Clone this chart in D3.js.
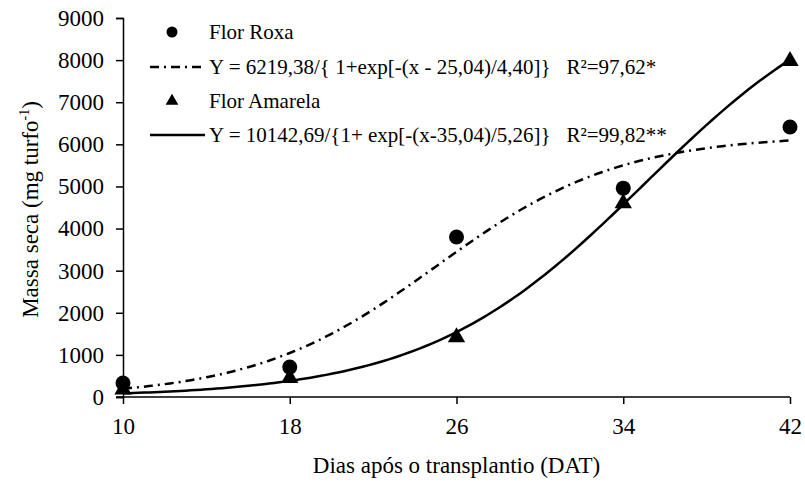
<!DOCTYPE html>
<html>
<head>
<meta charset="utf-8">
<script src="https://cdn.jsdelivr.net/npm/d3@7"></script>
<style>
  html, body { margin: 0; padding: 0; background: #fff; }
  svg text { font-family: "Liberation Serif", "Times New Roman", "DejaVu Serif", serif !important; fill: #000; }
</style>
</head>
<body>
<svg id="chart" width="805" height="483"></svg>
<script>
// Days after transplanting
const days = [10, 18, 26, 34, 42];
// Dry mass (mg turfo-1) observed for each flower colour
const roxaValues = [330, 710, 3800, 4960, 6410];
const amarelaValues = [180, 450, 1420, 4600, 7980];
// Logistic fit parameters: [a, x0, b] for Y = a / (1 + exp(-(x - x0)/b))
const roxaFit = [6219.38, 25.04, 4.40];
const amarelaFit = [10142.69, 35.04, 5.26];
// Axis ticks
const xTicks = [10, 18, 26, 34, 42];
const yTicks = [0, 1000, 2000, 3000, 4000, 5000, 6000, 7000, 8000, 9000];
// Legend texts
const legendRoxa = "Flor Roxa";
const legendRoxaEq = "Y = 6219,38/{ 1+exp[-(x - 25,04)/4,40]}\u00A0\u00A0 R²=97,62*";
const legendAmarela = "Flor Amarela";
const legendAmarelaEq = "Y = 10142,69/{1+ exp[-(x-35,04)/5,26]}\u00A0\u00A0 R²=99,82**";

const svg = d3.select("#chart");
const plotLeft = 123, plotRight = 790, plotTop = 18, plotBottom = 397;

const x = d3.scaleLinear().domain([10, 42]).range([plotLeft, plotRight]);
const y = d3.scaleLinear().domain([0, 9000]).range([plotBottom, plotTop]);

// Axes
const xAxis = d3.axisBottom(x).tickValues(xTicks).tickSize(7).tickPadding(14).tickFormat(d3.format("d"));
const yAxis = d3.axisLeft(y).tickValues(yTicks).tickSize(7).tickPadding(12).tickFormat(d3.format("d"));

const gx = svg.append("g").attr("transform", `translate(0,${plotBottom})`).call(xAxis);
const gy = svg.append("g").attr("transform", `translate(${plotLeft},0)`).call(yAxis);
[gx, gy].forEach(g => {
  g.attr("font-family", null).attr("font-size", null);
  g.select(".domain").attr("stroke", "#000").attr("stroke-width", 1.5);
  g.selectAll(".tick line").attr("stroke", "#000").attr("stroke-width", 1.5);
  g.selectAll(".tick text").style("font-size", "23px");
});
// extend the horizontal axis to the left across the y tick length
gx.select(".domain").attr("d", `M${plotLeft - 7},0H${plotRight}`);

// Axis titles
svg.append("text")
  .attr("x", (plotLeft + plotRight) / 2).attr("y", 473)
  .attr("text-anchor", "middle").style("font-size", "23px")
  .text("Dias após o transplantio (DAT)");

const yt = svg.append("text")
  .attr("transform", `translate(38,${(plotTop + plotBottom) / 2 + 2}) rotate(-90)`)
  .attr("text-anchor", "middle").style("font-size", "23px");
yt.append("tspan").text("Massa seca (mg turfo");
yt.append("tspan").attr("dy", -9).style("font-size", "14px").text("-1");
yt.append("tspan").attr("dy", 9).text(")");

// Fitted logistic curves
const logistic = p => t => p[0] / (1 + Math.exp(-(t - p[1]) / p[2]));
const xs = d3.range(10, 42.001, 0.25);
const line = d3.line().x(d => x(d[0])).y(d => y(d[1]));
const dashDot = "9,5,2,5";

svg.append("path")
  .datum(xs.map(t => [t, logistic(roxaFit)(t)]))
  .attr("d", line).attr("fill", "none").attr("stroke", "#000")
  .attr("stroke-width", 2.5).attr("stroke-dasharray", dashDot);

svg.append("path")
  .datum(xs.map(t => [t, logistic(amarelaFit)(t)]))
  .attr("d", line).attr("fill", "none").attr("stroke", "#000")
  .attr("stroke-width", 2.5);

// Observed points
const circleSym = d3.symbol().type(d3.symbolCircle);
const triSym = d3.symbol().type(d3.symbolTriangle);

svg.append("g").selectAll("path")
  .data(days.map((d, i) => [d, roxaValues[i]]))
  .join("path")
  .attr("transform", d => `translate(${x(d[0])},${y(d[1])})`)
  .attr("d", circleSym.size(Math.PI * 7.5 * 7.5)).attr("fill", "#000");

svg.append("g").selectAll("path")
  .data(days.map((d, i) => [d, amarelaValues[i]]))
  .join("path")
  .attr("transform", d => `translate(${x(d[0])},${y(d[1])})`)
  .attr("d", triSym.size(130)).attr("fill", "#000");

// Legend
const lg = svg.append("g").style("font-size", "21px");
const lx = 209;
const rows = [32, 67, 101, 135];

lg.append("path").attr("transform", `translate(172,${rows[0]})`)
  .attr("d", d3.symbol().type(d3.symbolCircle).size(Math.PI * 5.5 * 5.5)).attr("fill", "#000");
lg.append("text").attr("x", lx).attr("y", rows[0]).attr("dy", "0.35em").text(legendRoxa);

lg.append("line").attr("x1", 150).attr("x2", 205).attr("y1", rows[1]).attr("y2", rows[1])
  .attr("stroke", "#000").attr("stroke-width", 2.5).attr("stroke-dasharray", dashDot);
lg.append("text").attr("x", lx).attr("y", rows[1]).attr("dy", "0.35em").text(legendRoxaEq);

lg.append("path").attr("transform", `translate(172,${rows[2]})`)
  .attr("d", d3.symbol().type(d3.symbolTriangle).size(70)).attr("fill", "#000");
lg.append("text").attr("x", lx).attr("y", rows[2]).attr("dy", "0.35em").text(legendAmarela);

lg.append("line").attr("x1", 150).attr("x2", 205).attr("y1", rows[3]).attr("y2", rows[3])
  .attr("stroke", "#000").attr("stroke-width", 2.5);
lg.append("text").attr("x", lx).attr("y", rows[3]).attr("dy", "0.35em").text(legendAmarelaEq);
</script>
</body>
</html>
